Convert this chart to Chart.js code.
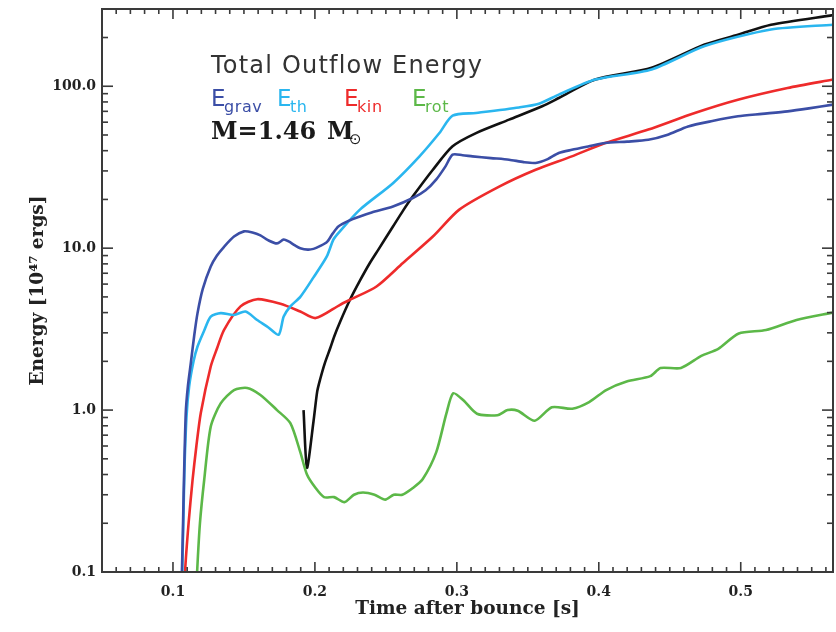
<!DOCTYPE html>
<html><head><meta charset="utf-8">
<script src="https://cdn.jsdelivr.net/npm/chart.js@4.4.0/dist/chart.umd.min.js"></script>
<style>html,body{margin:0;padding:0;background:#fff}canvas{display:block}</style>
</head><body>
<canvas id="c" width="836" height="632"></canvas>
<script>
// ---- data (time after bounce [s], energy [1e47 erg]) ----
const gravT = [0.1045,0.1063,0.1075,0.109,0.1105,0.1126,0.115,0.1173,0.121,0.1266,0.131,0.136,0.143,0.150,0.156,0.1616,0.167,0.1733,0.178,0.1815,0.186,0.1897,0.195,0.199,0.2035,0.2084,0.2125,0.2165,0.224,0.2317,0.24,0.255,0.269,0.278,0.2854,0.292,0.297,0.304,0.311,0.324,0.3368,0.347,0.3555,0.364,0.3718,0.381,0.3925,0.4045,0.42,0.4349,0.448,0.4629,0.48,0.498,0.515,0.533,0.548,0.565];
const gravE = [0.05,0.1,0.3,0.96,1.4,1.96,2.9,3.97,5.6,7.7,9.0,10.2,11.8,12.7,12.5,12.0,11.2,10.7,11.3,11.0,10.4,10.0,9.8,9.9,10.3,10.9,12.3,13.6,14.8,15.7,16.6,18.1,20.4,22.8,26.5,32,37.8,37.5,36.9,36.0,35.2,34.0,33.6,35.5,38.7,40.5,42.5,44.6,45.5,46.7,50,56.5,61,65.2,67.5,70,73,77];

const thT = [0.1048,0.1065,0.108,0.1095,0.1114,0.1145,0.1173,0.122,0.1266,0.1336,0.143,0.1511,0.1593,0.167,0.1745,0.178,0.1827,0.1897,0.199,0.2084,0.213,0.2165,0.2317,0.255,0.2737,0.2877,0.297,0.3135,0.3438,0.3578,0.3718,0.3975,0.4372,0.4746,0.5213,0.565];
const thE = [0.05,0.1,0.4,0.9,1.4,2.0,2.47,3.1,3.78,3.97,3.87,4.06,3.6,3.25,2.92,3.78,4.37,5.0,6.6,8.9,11.3,12.4,17.3,25.2,36.9,51.4,65.8,68.4,74,78,88.8,110,127,177,224,240];

const kinT = [0.1072,0.1085,0.111,0.1138,0.1165,0.1196,0.1266,0.131,0.136,0.1476,0.1593,0.1757,0.1897,0.2005,0.2177,0.2247,0.2434,0.262,0.2831,0.3017,0.3298,0.3555,0.381,0.4045,0.4349,0.4676,0.498,0.533,0.565];
const kinE = [0.05,0.1,0.2,0.37,0.6,0.96,1.86,2.4,3.13,4.37,4.84,4.53,4.06,3.7,4.47,4.8,5.8,8.1,11.8,17.3,24,30.5,36.9,44.6,54,68.4,82.6,97.6,110];

const rotT = [0.1155,0.117,0.119,0.122,0.1266,0.1336,0.143,0.1523,0.1616,0.1733,0.1827,0.1897,0.1944,0.2005,0.2064,0.2135,0.2208,0.2275,0.2339,0.242,0.2496,0.2555,0.2616,0.269,0.276,0.2855,0.2926,0.2974,0.3046,0.3142,0.3286,0.3357,0.3429,0.3549,0.3669,0.3813,0.3932,0.4052,0.4196,0.4363,0.4435,0.4579,0.4722,0.4842,0.4986,0.5178,0.5393,0.565];
const rotE = [0.05,0.1,0.2,0.37,0.79,1.1,1.33,1.37,1.24,1.0,0.83,0.55,0.40,0.33,0.29,0.29,0.27,0.30,0.31,0.30,0.28,0.30,0.30,0.33,0.375,0.55,0.95,1.27,1.15,0.95,0.93,1.0,0.99,0.86,1.04,1.02,1.12,1.33,1.5,1.62,1.82,1.82,2.16,2.39,2.97,3.12,3.6,4.0];

const totT = [0.192,0.1944,0.199,0.2016,0.2037,0.207,0.2107,0.2136,0.2177,0.2247,0.2317,0.2387,0.2447,0.255,0.262,0.269,0.2831,0.297,0.3135,0.3368,0.3601,0.3718,0.3975,0.4372,0.4746,0.498,0.5213,0.565];
const totE = [1.0,0.44,0.85,1.3,1.55,1.95,2.4,2.85,3.5,4.8,6.3,8.1,9.8,13.6,17,20.9,30.5,42.6,51.4,62.2,75.2,84.6,110,130,181,208,240,275];

const xTicks = [0.1,0.2,0.3,0.4,0.5];
const yTicks = [0.1,1,10,100];
const yTickLabels = ['0.1','1.0','10.0','100.0'];

const pts = (t,e) => t.map((v,i)=>({x:v,y:e[i]}));
const serif = '"DejaVu Serif", serif';

const frame = {
  id:'frame',
  afterDatasetsDraw(chart){
    const {ctx, chartArea:a, scales:{x,y}} = chart;
    ctx.save();
    ctx.strokeStyle='#3a3a3a';
    const seg=(x1,y1,x2,y2)=>{ctx.beginPath();ctx.moveTo(x1,y1);ctx.lineTo(x2,y2);ctx.stroke();};
    ctx.lineWidth=1.6;
    for(let i=5;i<=56;i++){
      const px=x.getPixelForValue(i/100);
      if(px<a.left-0.5||px>a.right+0.5) continue;
      const L=(i%10===0)?10:5;
      seg(px,a.bottom,px,a.bottom-L); seg(px,a.top,px,a.top+L);
    }
    for(let d=-1;d<=2;d++) for(let m=1;m<=9;m++){
      const v=m*Math.pow(10,d); if(v>300.001) continue;
      const py=y.getPixelForValue(v);
      const L=(m===1)?11:6;
      seg(a.left,py,a.left+L,py); seg(a.right,py,a.right-L,py);
    }
    ctx.lineWidth=2;
    ctx.strokeRect(a.left,a.top,a.right-a.left,a.bottom-a.top);
    ctx.restore();
  },
  afterDraw(chart){
    const ctx=chart.ctx;
    ctx.save();
    ctx.textBaseline='alphabetic'; ctx.textAlign='left';
    ctx.letterSpacing='1.2px';
    ctx.fillStyle='#333';
    ctx.font='24px "DejaVu Sans"';
    ctx.fillText('Total Outflow Energy',211,73);
    const sub=(E,s,x,col)=>{
      ctx.fillStyle=col; ctx.font='23px "DejaVu Sans"'; ctx.letterSpacing='0px';
      ctx.fillText(E,x,106);
      ctx.font='16px "DejaVu Sans"'; ctx.letterSpacing='0.6px';
      ctx.fillText(s,x+13,112);
    };
    sub('E','grav',211,'#3b4ea6');
    sub('E','th',277,'#2ab6ef');
    sub('E','kin',344,'#ee2b2b');
    sub('E','rot',412,'#5cb848');
    ctx.letterSpacing='0px';
    ctx.fillStyle='#1a1a1a';
    ctx.font='bold 24px '+serif;
    ctx.fillText('M=1.46',211,139);
    ctx.fillText('M',327,139);
    ctx.font='15px "DejaVu Sans"';
    ctx.fillText('\u2299',349,144);
    ctx.restore();
  }
};

new Chart(document.getElementById('c'),{
  type:'line',
  data:{datasets:[
    {label:'E_grav',data:pts(gravT,gravE),borderColor:'#3b4ea6'},
    {label:'E_th',data:pts(thT,thE),borderColor:'#2ab6ef'},
    {label:'E_kin',data:pts(kinT,kinE),borderColor:'#ee2b2b'},
    {label:'E_rot',data:pts(rotT,rotE),borderColor:'#5cb848'},
    {label:'Total',data:pts(totT,totE),borderColor:'#111111'}
  ]},
  options:{
    responsive:false, animation:false, devicePixelRatio:1,
    layout:{padding:{top:9,right:3,left:0,bottom:0}},
    elements:{point:{radius:0},line:{borderWidth:2.6,tension:0.25,fill:false}},
    datasets:{line:{clip:0}},
    plugins:{legend:{display:false},tooltip:{enabled:false}},
    scales:{
      x:{type:'linear',min:0.05,max:0.565,
        grid:{display:false,drawTicks:false},border:{display:false},
        afterBuildTicks:s=>{s.ticks=xTicks.map(v=>({value:v}));},
        afterFit:s=>{s.height=60;s.paddingLeft=0;s.paddingRight=0;},
        ticks:{autoSkip:false,maxRotation:0,padding:12,color:'#222',font:{family:serif,weight:'bold',size:14},callback:v=>Number(v).toFixed(1)},
        title:{display:true,text:'Time after bounce [s]',color:'#222',font:{family:serif,weight:'bold',size:18.5},padding:{top:0,bottom:12}}
      },
      y:{type:'logarithmic',min:0.1,max:300,
        grid:{display:false,drawTicks:false},border:{display:false},
        afterBuildTicks:s=>{s.ticks=yTicks.map(v=>({value:v}));},
        afterFit:s=>{s.width=102;s.paddingTop=0;s.paddingBottom=0;},
        ticks:{autoSkip:false,padding:6,color:'#222',font:{family:serif,weight:'bold',size:14},callback:(v)=>{const i=yTicks.indexOf(v);return i>=0?yTickLabels[i]:'';}},
        title:{display:true,text:'Energy [10\u2074\u2077 ergs]',color:'#222',font:{family:serif,weight:'bold',size:18.5},padding:{top:27,bottom:0}}
      }
    }
  },
  plugins:[frame]
});
</script>
</body></html>
